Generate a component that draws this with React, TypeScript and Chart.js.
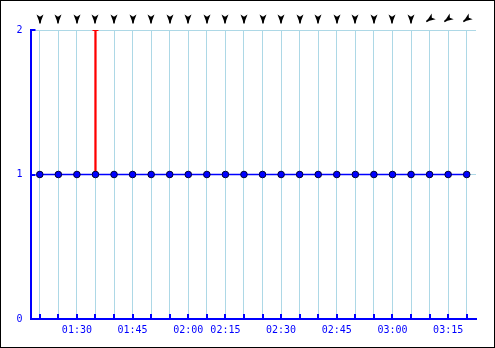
import React, { useEffect, useRef } from "react";
import { Chart, registerables } from "chart.js";

Chart.register(...registerables);

const times = [
  "01:20", "01:25", "01:30", "01:35", "01:40", "01:45", "01:50", "01:55",
  "02:00", "02:05", "02:15", "02:20", "02:25", "02:30", "02:35", "02:40",
  "02:45", "02:50", "02:55", "03:00", "03:05", "03:10", "03:15", "03:20",
];
const values = [1, 1, 1, 1, 1, 1, 1, 1, 1, 1, 1, 1, 1, 1, 1, 1, 1, 1, 1, 1, 1, 1, 1, 1];
const peakValues = [null, null, null, 2, null, null, null, null, null, null, null, null, null, null, null, null, null, null, null, null, null, null, null, null];
const windDir = [0, 0, 0, 0, 0, 0, 0, 0, 0, 0, 0, 0, 0, 0, 0, 0, 0, 0, 0, 0, 0, 55, 55, 55];
const yTicks = [0, 1, 2];

const BLUE = "#0000ff";
const GRID = "#add8e6";
const FONT = "'DejaVu Sans Mono', monospace";

const decorPlugin = {
  id: "decor",
  afterDraw(chart: any) {
    const { ctx, chartArea, scales } = chart;
    const xs = scales.x;
    const ys = scales.y;
    ctx.save();
    ctx.strokeStyle = BLUE;
    ctx.lineWidth = 2;
    for (let i = 0; i < times.length; i++) {
      const x = Math.round(xs.getPixelForValue(i));
      ctx.beginPath();
      ctx.moveTo(x, chartArea.bottom);
      ctx.lineTo(x, chartArea.bottom - 5);
      ctx.stroke();
    }
    for (const v of yTicks) {
      const y = Math.round(ys.getPixelForValue(v));
      ctx.beginPath();
      ctx.moveTo(chartArea.left, y);
      ctx.lineTo(chartArea.left + 5, y);
      ctx.stroke();
    }
    ctx.fillStyle = "#000";
    for (let i = 0; i < times.length; i++) {
      const x = Math.round(xs.getPixelForValue(i));
      const y = 19;
      ctx.save();
      ctx.translate(x, y);
      ctx.rotate((windDir[i] * Math.PI) / 180);
      ctx.beginPath();
      ctx.moveTo(-3.5, -4.5);
      ctx.lineTo(0, -2.2);
      ctx.lineTo(3.5, -4.5);
      ctx.lineTo(1.2, 1.5);
      ctx.lineTo(0.7, 4.5);
      ctx.lineTo(-0.7, 4.5);
      ctx.lineTo(-1.2, 1.5);
      ctx.closePath();
      ctx.fill();
      ctx.restore();
    }
    ctx.strokeStyle = "#000";
    ctx.lineWidth = 1;
    ctx.strokeRect(0.5, 0.5, 494, 347);
    ctx.restore();
  },
};

export default function App() {
  const ref = useRef<HTMLCanvasElement>(null);
  useEffect(() => {
    if (!ref.current) return;
    const chart = new Chart(ref.current, {
      data: {
        labels: times,
        datasets: [
          {
            type: "bar",
            data: peakValues.map((p, i) => (p == null ? null : [values[i], p])) as any,
            backgroundColor: "#ff0000",
            barThickness: 1.6,
            order: 3,
          },
          {
            type: "line",
            data: peakValues as any,
            showLine: false,
            pointStyle: "line",
            pointRadius: 3,
            borderColor: "#ff0000",
            borderWidth: 2,
            order: 2,
          },
          {
            type: "line",
            data: values,
            borderColor: BLUE,
            borderWidth: 1.5,
            pointRadius: 3.3,
            pointBackgroundColor: BLUE,
            pointBorderColor: "#000033",
            pointBorderWidth: 1,
            order: 1,
          },
        ],
      } as any,
      options: {
        responsive: false,
        animation: false,
        layout: { padding: { top: 30, right: 19, left: 0, bottom: 0 } },
        plugins: { legend: { display: false }, tooltip: { enabled: false } },
        scales: {
          x: {
            type: "category",
            offset: true,
            afterFit: (s: any) => {
              s.height = 29;
            },
            grid: { color: GRID, lineWidth: 1, offset: false, drawTicks: false },
            border: { color: BLUE, width: 2 },
            ticks: {
              autoSkip: false,
              maxRotation: 0,
              padding: 5,
              color: BLUE,
              font: { family: FONT, size: 10 },
              callback: (_v: any, i: number) => {
                const t = times[i];
                const m = t.slice(3);
                return m === "00" || m === "15" || m === "30" || m === "45" ? t : "";
              },
            },
          },
          y: {
            min: 0,
            max: 2,
            afterFit: (s: any) => {
              s.width = 30.5;
            },
            afterBuildTicks: (s: any) => {
              s.ticks = yTicks.map((v) => ({ value: v }));
            },
            grid: { color: GRID, lineWidth: 1, drawTicks: false },
            border: { color: BLUE, width: 2 },
            ticks: {
              padding: 8,
              color: BLUE,
              font: { family: FONT, size: 10 },
            },
          },
        },
      } as any,
      plugins: [decorPlugin],
    });
    return () => chart.destroy();
  }, []);
  return (
    <div style={{ position: "absolute", left: 0, top: 0, width: 495, height: 348, background: "#fff" }}>
      <canvas ref={ref} width={495} height={348} />
    </div>
  );
}
